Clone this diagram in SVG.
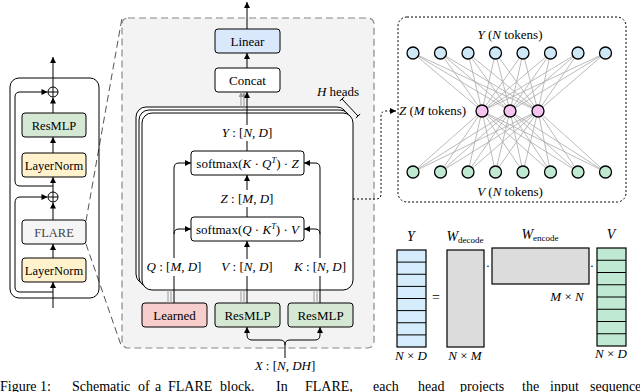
<svg xmlns="http://www.w3.org/2000/svg" width="640" height="392" viewBox="0 0 640 392">
<defs>
<marker id="ah" viewBox="0 0 10 10" refX="10" refY="5" markerWidth="7" markerHeight="6" orient="auto" markerUnits="userSpaceOnUse"><path d="M0,0 L10,5 L0,10 z" fill="#000"/></marker>
<marker id="ahg" viewBox="0 0 10 10" refX="10" refY="5" markerWidth="6" markerHeight="5" orient="auto" markerUnits="userSpaceOnUse"><path d="M0,0 L10,5 L0,10 z" fill="#999"/></marker>
<style>
text{font-family:"Liberation Serif","Times New Roman",serif;font-size:13px;fill:#000}
.c{text-anchor:middle}
.i{font-style:italic}
.sup{font-size:8.5px}
.sub{font-size:9px}
.big{font-size:14px}
.cap{font-size:14px}
.bl{font-size:12.5px}
.box{stroke:#000;stroke-width:1;}
.ln{fill:none;stroke:#000;stroke-width:1}
.arr{fill:none;stroke:#000;stroke-width:1;marker-end:url(#ah)}
.garr{fill:none;stroke:#999;stroke-width:1;marker-end:url(#ahg)}
.gl{fill:none;stroke:#999;stroke-width:1}
.green{fill:#d5e8d4}
.yellow{fill:#fff2cc}
.net{fill:none;stroke:#aaa;stroke-width:0.8}
.node{stroke:#000;stroke-width:1.3}
.dot{fill:none;stroke:#000;stroke-width:1;stroke-dasharray:2,2}
</style>
</defs>

<!-- middle panel background -->
<g id="panel-head">
<rect x="122" y="18" width="252" height="330" rx="6" fill="#f3f3f3" stroke="#888" stroke-width="1.2" stroke-dasharray="7,4"/>
</g>

<!-- zoom lines -->
<g id="zoom-lines">
<line x1="86" y1="221" x2="122" y2="18" stroke="#555" stroke-width="1" stroke-dasharray="7,4"/>
<line x1="86" y1="244" x2="122" y2="348" stroke="#555" stroke-width="1" stroke-dasharray="7,4"/>
</g>

<!-- left block -->
<g id="block">
<rect x="10" y="78" width="89" height="220" rx="9" fill="none" stroke="#000" stroke-width="1"/>
</g>
<g id="add1"><circle cx="53" cy="92" r="5" fill="#fff" stroke="#000"/><path class="ln" d="M48 92H58M53 87V97"/></g>
<g id="resmlp-l"><rect class="box green" x="22" y="113" width="64" height="24" rx="3"/><text class="c bl" x="54" y="129.5">ResMLP</text></g>
<g id="ln1"><rect class="box yellow" x="22" y="153" width="64" height="24" rx="3"/><text class="c bl" x="54" y="169.5">LayerNorm</text></g>
<g id="add2"><circle cx="53" cy="197" r="5" fill="#fff" stroke="#000"/><path class="ln" d="M48 197H58M53 192V202"/></g>
<g id="flare"><rect class="box" fill="#f5f5f5" x="22" y="220" width="64" height="24" rx="3"/><text class="c bl" x="54" y="236.5" style="fill:#444">FLARE</text></g>
<g id="ln2"><rect class="box yellow" x="22" y="258" width="64" height="24" rx="3"/><text class="c bl" x="54" y="274.5">LayerNorm</text></g>

<!-- head stack -->
<g id="heads">
<rect x="136" y="107" width="211" height="177" rx="10" fill="#fff" stroke="#000"/>
<rect x="139" y="110" width="211" height="177" rx="10" fill="#fff" stroke="#000"/>
<rect x="142" y="113" width="211" height="177" rx="10" fill="#fff" stroke="#000"/>
</g>
<g id="hbracket">
<path class="ln" d="M342 99L358 116M339.8 101L344.2 97M355.8 118L360.2 114"/>
<text class="c" x="338" y="96"><tspan class="i">H</tspan> heads</text>
</g>

<g id="linear"><rect class="box" fill="#dae8fc" x="215" y="29" width="65" height="24" rx="3"/><text class="c" x="247.5" y="45.5">Linear</text></g>
<g id="concat"><rect class="box" fill="#fff" x="215" y="68" width="65" height="24" rx="3"/><text class="c" x="247.5" y="84.5">Concat</text></g>
<g id="sm1"><rect class="box" fill="#fff" x="191" y="151" width="113" height="24" rx="3"/><text class="c" x="247.5" y="167.5">softmax(<tspan class="i">K</tspan> · <tspan class="i">Q</tspan><tspan class="i sup" dy="-5">T</tspan><tspan dy="5">) · </tspan><tspan class="i">Z</tspan></text></g>
<g id="sm2"><rect class="box" fill="#fff" x="191" y="217" width="113" height="24" rx="3"/><text class="c" x="247.5" y="233.5">softmax(<tspan class="i">Q</tspan> · <tspan class="i">K</tspan><tspan class="i sup" dy="-5">T</tspan><tspan dy="5">) · </tspan><tspan class="i">V</tspan></text></g>
<g id="learned"><rect class="box" fill="#f8cecc" x="142" y="303" width="65" height="24" rx="3"/><text class="c" x="174.5" y="319.5">Learned</text></g>
<g id="resmlp-v"><rect class="box green" x="215" y="303" width="65" height="24" rx="3"/><text class="c" x="247.5" y="319.5">ResMLP</text></g>
<g id="resmlp-k"><rect class="box green" x="288" y="303" width="65" height="24" rx="3"/><text class="c" x="320.5" y="319.5">ResMLP</text></g>

<!-- labels in head -->
<g id="labels">
<text class="c" x="247" y="137"><tspan class="i">Y</tspan> : [<tspan class="i">N</tspan>, <tspan class="i">D</tspan>]</text>
<text class="c" x="247" y="203"><tspan class="i">Z</tspan> : [<tspan class="i">M</tspan>, <tspan class="i">D</tspan>]</text>
<text class="c" x="174" y="271"><tspan class="i">Q</tspan> : [<tspan class="i">M</tspan>, <tspan class="i">D</tspan>]</text>
<text class="c" x="247" y="271"><tspan class="i">V</tspan> : [<tspan class="i">N</tspan>, <tspan class="i">D</tspan>]</text>
<text class="c" x="320" y="271"><tspan class="i">K</tspan> : [<tspan class="i">N</tspan>, <tspan class="i">D</tspan>]</text>
<text class="c" x="285" y="370"><tspan class="i">X</tspan> : [<tspan class="i">N</tspan>, <tspan class="i">DH</tspan>]</text>
</g>

<!-- right network -->
<g id="network">
<rect x="398" y="17" width="228" height="185" rx="9" class="dot"/>
<path class="net" d="M413 53L482 111M440.5 53L482 111M468 53L482 111M495.5 53L482 111M523 53L482 111M550.5 53L482 111M578 53L482 111M605.5 53L482 111M413 53L510 111M440.5 53L510 111M468 53L510 111M495.5 53L510 111M523 53L510 111M550.5 53L510 111M578 53L510 111M605.5 53L510 111M413 53L538 111M440.5 53L538 111M468 53L538 111M495.5 53L538 111M523 53L538 111M550.5 53L538 111M578 53L538 111M605.5 53L538 111"/>
<path class="net" d="M413 172L482 111M440.5 172L482 111M468 172L482 111M495.5 172L482 111M523 172L482 111M550.5 172L482 111M578 172L482 111M605.5 172L482 111M413 172L510 111M440.5 172L510 111M468 172L510 111M495.5 172L510 111M523 172L510 111M550.5 172L510 111M578 172L510 111M605.5 172L510 111M413 172L538 111M440.5 172L538 111M468 172L538 111M495.5 172L538 111M523 172L538 111M550.5 172L538 111M578 172L538 111M605.5 172L538 111"/>
<g fill="#cfe8f8" class="node">
<circle cx="413" cy="53" r="6"/><circle cx="440.5" cy="53" r="6"/><circle cx="468" cy="53" r="6"/><circle cx="495.5" cy="53" r="6"/><circle cx="523" cy="53" r="6"/><circle cx="550.5" cy="53" r="6"/><circle cx="578" cy="53" r="6"/><circle cx="605.5" cy="53" r="6"/>
</g>
<g fill="#f5c3f0" class="node">
<circle cx="482" cy="111" r="6"/><circle cx="510" cy="111" r="6"/><circle cx="538" cy="111" r="6"/>
</g>
<g fill="#bfe9d0" class="node">
<circle cx="413" cy="172" r="6"/><circle cx="440.5" cy="172" r="6"/><circle cx="468" cy="172" r="6"/><circle cx="495.5" cy="172" r="6"/><circle cx="523" cy="172" r="6"/><circle cx="550.5" cy="172" r="6"/><circle cx="578" cy="172" r="6"/><circle cx="605.5" cy="172" r="6"/>
</g>
<text class="c" x="510" y="39"><tspan class="i">Y</tspan> (<tspan class="i">N</tspan> tokens)</text>
<text x="399" y="115"><tspan class="i">Z</tspan> (<tspan class="i">M</tspan> tokens)</text>
<text class="c" x="510" y="196"><tspan class="i">V</tspan> (<tspan class="i">N</tspan> tokens)</text>
</g>

<!-- matrices -->
<g id="matrices">
<rect x="397" y="250" width="29" height="97" fill="#d4ecfb" stroke="#000" stroke-width="1.2"/>
<path class="ln" d="M397 262.1H426M397 274.25H426M397 286.4H426M397 298.5H426M397 310.6H426M397 322.75H426M397 334.9H426"/>
<rect x="447" y="250" width="37" height="97" fill="#dcdcdc" stroke="#000" stroke-width="1.2"/>
<rect x="492" y="248" width="97" height="36" fill="#dcdcdc" stroke="#000" stroke-width="1.2"/>
<rect x="597" y="248" width="29" height="98" fill="#bfe9d2" stroke="#000" stroke-width="1.2"/>
<path class="ln" d="M597 260.25H626M597 272.5H626M597 284.75H626M597 297H626M597 309.25H626M597 321.5H626M597 333.75H626"/>
<text class="c i big" x="411" y="241">Y</text>
<text class="c" x="465" y="241"><tspan class="i big">W</tspan><tspan class="sub" dy="2">decode</tspan></text>
<text class="c" x="540" y="239"><tspan class="i big">W</tspan><tspan class="sub" dy="2">encode</tspan></text>
<text class="c i big" x="611" y="239">V</text>
<text class="c cap" x="436" y="302">=</text>
<text class="c" x="488" y="270">·</text>
<text class="c" x="592" y="270">·</text>
<text class="c" x="567" y="301"><tspan class="i">M</tspan> × <tspan class="i">N</tspan></text>
<text class="c" x="411" y="360"><tspan class="i">N</tspan> × <tspan class="i">D</tspan></text>
<text class="c" x="465" y="360"><tspan class="i">N</tspan> × <tspan class="i">M</tspan></text>
<text class="c" x="611" y="358"><tspan class="i">N</tspan> × <tspan class="i">D</tspan></text>
</g>

<!-- connectors -->
<g id="connectors">
<path class="arr" d="M53 87V57"/>
<path class="arr" d="M53 113V97.5"/>
<path class="arr" d="M53 153V137"/>
<path class="arr" d="M53 192V177"/>
<path class="arr" d="M53 220V202.5"/>
<path class="arr" d="M53 258V244"/>
<path class="arr" d="M53 308V282"/>
<path class="arr" d="M53 186H20Q15 186 15 181V97Q15 92 20 92H47.5"/>
<path class="arr" d="M53 292H20Q15 292 15 287V203Q15 197 20 197H47.5"/>
<path class="arr" d="M247 29V2"/>
<path class="arr" d="M247 68V53"/>
<path class="garr" d="M241 107V92"/>
<path class="garr" d="M244 110V92"/>
<path class="ln" d="M247 151V141"/>
<path class="arr" d="M247 125V92"/>
<path class="ln" d="M247 217V207"/>
<path class="arr" d="M247 190V175"/>
<path class="arr" d="M247 259V241"/>
<path class="ln" d="M247 303V276"/>
<path class="ln" d="M174 303V276"/>
<path class="arr" d="M174 258V168Q174 163 179 163H191"/>
<path class="arr" d="M174 234Q174 229 179 229H191"/>
<path class="ln" d="M320 303V276"/>
<path class="arr" d="M320 258V168Q320 163 315 163H304"/>
<path class="arr" d="M320 234Q320 229 315 229H304"/>
<path class="gl" d="M168 290V303M171 290V303M241 290V303M244 290V303M314 290V303M317 290V303"/>
<path class="arr" d="M285 358V345Q285 340 280 340H252Q247 340 247 335V327"/>
<path class="arr" d="M285 345Q285 340 290 340H315Q320 340 320 335V327"/>
<path class="dot" d="M353 199H376Q381 199 381 194V116Q381 111 386 111H390"/>
<path class="arr" d="M390 111H396"/>
</g>

<!-- caption (cut off at bottom edge as in the reference) -->
<g id="caption">
<text class="cap" y="391"><tspan x="0">Figure</tspan><tspan x="40">1:</tspan><tspan x="72">Schematic</tspan><tspan x="138">of</tspan><tspan x="155">a</tspan><tspan x="168">FLARE</tspan><tspan x="220">block.</tspan><tspan x="276">In</tspan><tspan x="305">FLARE,</tspan><tspan x="373">each</tspan><tspan x="418">head</tspan><tspan x="460">projects</tspan><tspan x="522">the</tspan><tspan x="550">input</tspan><tspan x="590">sequence</tspan></text>
</g>
</svg>
